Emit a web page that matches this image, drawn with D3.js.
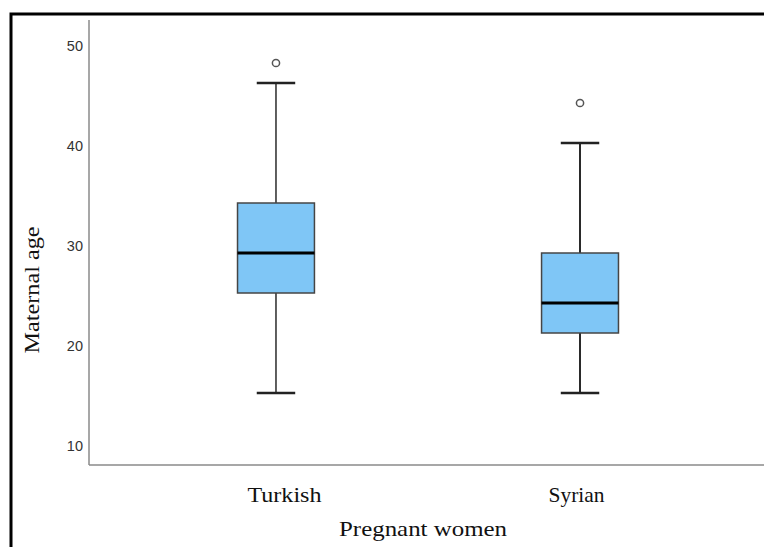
<!DOCTYPE html>
<html>
<head>
<meta charset="utf-8">
<script src="https://cdn.jsdelivr.net/npm/d3@7/dist/d3.min.js"></script>
<style>
  html, body { margin: 0; padding: 0; background: #fff; }
  svg { display: block; }
</style>
</head>
<body>
<svg id="chart" width="764" height="547"></svg>
<script>
// Maternal age by group: five-number summaries plus outliers
const groups = ["Turkish", "Syrian"];
const whiskerLow = [15, 15];
const q1 = [25, 21];
const median = [29, 24];
const q3 = [34, 29];
const whiskerHigh = [46, 40];
const outliers = [[48], [44]];
const yTicks = [10, 20, 30, 40, 50];

const svg = d3.select("#chart");
const W = 764, H = 547;

// Outer frame (only top and left edges fall inside the page)
svg.append("path")
  .attr("d", `M11,${H + 5} L11,14 L${W + 5},14`)
  .attr("fill", "none")
  .attr("stroke", "#000")
  .attr("stroke-width", 3);

const plotLeft = 89, plotBottom = 465, plotTop = 20, plotRight = 767;

const y = d3.scaleLinear().domain([7.8, 52.3]).range([plotBottom, plotTop]);
const x = d3.scalePoint().domain(groups).range([plotLeft, plotRight]).padding(0.615);
const step = x.step();
const boxW = step * 0.253;
const capW = boxW * 0.5;

// Axis lines
svg.append("line")
  .attr("x1", plotLeft).attr("x2", plotLeft)
  .attr("y1", plotTop).attr("y2", plotBottom)
  .attr("stroke", "#8a8a8a").attr("stroke-width", 1.5);
svg.append("line")
  .attr("x1", plotLeft).attr("x2", W + 5)
  .attr("y1", plotBottom).attr("y2", plotBottom)
  .attr("stroke", "#8a8a8a").attr("stroke-width", 1.5);

// Y tick labels
const yAxis = d3.axisLeft(y).tickValues(yTicks).tickSize(0).tickPadding(6);
const gy = svg.append("g").attr("transform", `translate(${plotLeft},0)`).call(yAxis);
gy.select(".domain").remove();
gy.selectAll("text")
  .attr("dy", "0.52em")
  .attr("fill", "#333")
  .style("font-family", "'Liberation Sans', Arial, sans-serif")
  .style("font-size", "14.5px");

// Category labels
const labelWidths = [74, 56];
const xAxis = d3.axisBottom(x).tickSize(0).tickPadding(22);
const gx = svg.append("g").attr("transform", `translate(0,${plotBottom})`).call(xAxis);
gx.select(".domain").remove();
gx.selectAll("text")
  .attr("fill", "#111")
  .attr("dx", (d, i) => i === 0 ? 8 : -4)
  .attr("textLength", (d, i) => labelWidths[i])
  .attr("lengthAdjust", "spacingAndGlyphs")
  .style("font-family", "'Liberation Serif', 'Times New Roman', serif")
  .style("font-size", "21px");

// Boxes
const data = groups.map((g, i) => ({
  g, lo: whiskerLow[i], q1: q1[i], med: median[i], q3: q3[i], hi: whiskerHigh[i], out: outliers[i], i
}));

const bx = svg.append("g").selectAll("g").data(data).join("g");

// whiskers
bx.append("line")
  .attr("x1", d => x(d.g)).attr("x2", d => x(d.g))
  .attr("y1", d => y(d.q3)).attr("y2", d => y(d.hi))
  .attr("stroke", "#2a2a2a").attr("stroke-width", d => d.i === 0 ? 1.5 : 2);
bx.append("line")
  .attr("x1", d => x(d.g)).attr("x2", d => x(d.g))
  .attr("y1", d => y(d.q1)).attr("y2", d => y(d.lo))
  .attr("stroke", "#2a2a2a").attr("stroke-width", d => d.i === 0 ? 1.5 : 2);
// caps
["hi", "lo"].forEach(k => {
  bx.append("line")
    .attr("x1", d => x(d.g) - capW / 2).attr("x2", d => x(d.g) + capW / 2)
    .attr("y1", d => y(d[k])).attr("y2", d => y(d[k]))
    .attr("stroke", "#222").attr("stroke-width", 2.5);
});
// box
bx.append("rect")
  .attr("x", d => x(d.g) - boxW / 2)
  .attr("width", boxW)
  .attr("y", d => y(d.q3))
  .attr("height", d => y(d.q1) - y(d.q3))
  .attr("fill", "#7fc6f6")
  .attr("stroke", "#454545")
  .attr("stroke-width", 1.5);
// median
bx.append("line")
  .attr("x1", d => x(d.g) - boxW / 2).attr("x2", d => x(d.g) + boxW / 2)
  .attr("y1", d => y(d.med)).attr("y2", d => y(d.med))
  .attr("stroke", "#000").attr("stroke-width", 3);
// outliers
bx.selectAll("circle").data(d => d.out.map(v => ({ g: d.g, v }))).join("circle")
  .attr("cx", d => x(d.g)).attr("cy", d => y(d.v))
  .attr("r", 3.6)
  .attr("fill", "#fff")
  .attr("stroke", "#555")
  .attr("stroke-width", 1.5);

// Axis titles
svg.append("text")
  .attr("x", 423).attr("y", 536)
  .attr("text-anchor", "middle")
  .attr("textLength", 168).attr("lengthAdjust", "spacingAndGlyphs")
  .attr("fill", "#111")
  .style("font-family", "'Liberation Serif', 'Times New Roman', serif")
  .style("font-size", "21.5px")
  .text("Pregnant women");

svg.append("text")
  .attr("transform", "translate(39,290) rotate(-90)")
  .attr("text-anchor", "middle")
  .attr("textLength", 127).attr("lengthAdjust", "spacingAndGlyphs")
  .attr("fill", "#111")
  .style("font-family", "'Liberation Serif', 'Times New Roman', serif")
  .style("font-size", "20px")
  .text("Maternal age");
</script>
</body>
</html>
